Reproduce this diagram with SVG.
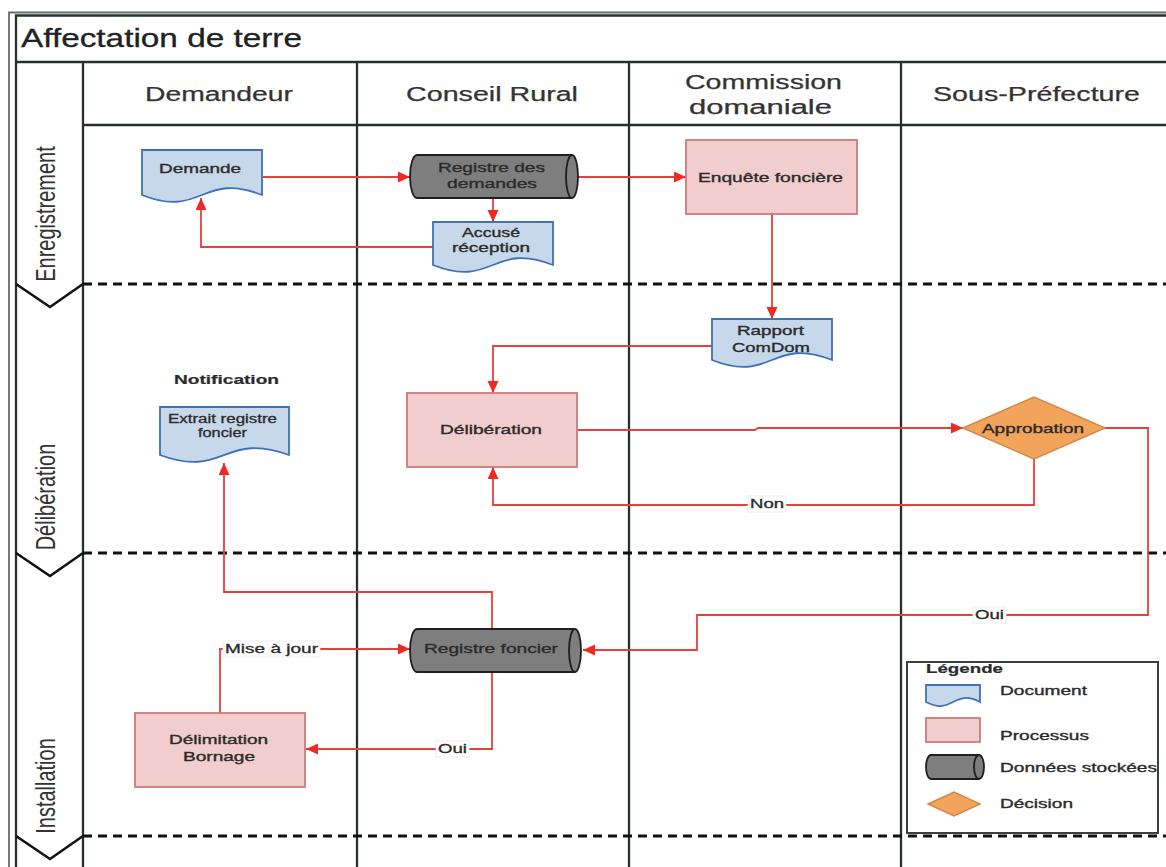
<svg xmlns="http://www.w3.org/2000/svg" width="1166" height="867" viewBox="0 0 1166 867">
  <defs>
    <marker id="arrow" markerUnits="userSpaceOnUse" markerWidth="13" markerHeight="12" refX="12" refY="5.5" orient="auto">
      <path d="M0,0 L12,5.5 L0,11 Z" fill="#ee2a24"/>
    </marker>
    <style>
      text { font-family: "Liberation Sans", Arial, sans-serif; fill: #2b2b2b; }
      .title { font-size: 25px; fill: #222; stroke: #222; stroke-width: 0.3; }
      .lane { font-size: 20px; fill: #333; stroke: #333; stroke-width: 0.25; }
      .phase { font-size: 20px; fill: #333; }
      .node { font-size: 13px; stroke: #2b2b2b; stroke-width: 0.35; }
      .small { font-size: 12px; stroke: #2b2b2b; stroke-width: 0.3; }
      .bold { font-weight: bold; stroke-width: 0.2; }
      .frame { stroke: #25302f; stroke-width: 2.3; fill: none; }
      .frame-thin { stroke: #6a6a6a; stroke-width: 1.8; fill: none; }
      .phase-sep { stroke: #111; stroke-width: 3; stroke-dasharray: 9 6; fill: none; }
      .chevron { stroke: #111; stroke-width: 2.5; fill: none; stroke-linejoin: miter; }
      .doc { fill: #c7d8eb; stroke: #3f72b3; stroke-width: 1.8; }
      .proc { fill: #f1cdcd; stroke: #cd7b7b; stroke-width: 1.8; }
      .store { fill: #7e7e7e; stroke: #1f1f1f; stroke-width: 1.8; }
      .store-end { fill: none; stroke: #1f1f1f; stroke-width: 1.8; }
      .decision { fill: #f2a45a; stroke: #d5874a; stroke-width: 1.5; }
      .conn { fill: none; stroke: #e6403a; stroke-width: 1.8; }
      .conn-arrow { marker-end: url(#arrow); }
      .label-bg { fill: #ffffff; stroke: #e3e8ee; stroke-width: 0.8; }
      .legend-box { fill: #ffffff; stroke: #3a3f40; stroke-width: 2; }
    </style>
  </defs>

  <rect width="1166" height="867" fill="#ffffff"/>

  <!-- pool frame, title band and lane grid -->
  <g id="pool">
    <path class="frame-thin" d="M9,867 V12.5 H1166"/>
    <path class="frame" d="M16,867 V15.5 H1166"/>
    <line class="frame" x1="16" y1="62" x2="1166" y2="62"/>
    <line class="frame" x1="83" y1="62" x2="83" y2="867"/>
    <line class="frame" x1="83" y1="125" x2="1166" y2="125"/>
    <line class="frame" x1="357" y1="62" x2="357" y2="867"/>
    <line class="frame" x1="629" y1="62" x2="629" y2="867"/>
    <line class="frame" x1="901" y1="62" x2="901" y2="867"/>
    <text class="title" x="21" y="47" textLength="281" lengthAdjust="spacingAndGlyphs">Affectation de terre</text>
  </g>

  <!-- lane headers -->
  <g id="lane-demandeur">
    <text class="lane" x="145" y="101" textLength="148" lengthAdjust="spacingAndGlyphs">Demandeur</text>
  </g>
  <g id="lane-conseil">
    <text class="lane" x="406" y="101" textLength="172" lengthAdjust="spacingAndGlyphs">Conseil Rural</text>
  </g>
  <g id="lane-commission">
    <text class="lane" x="685" y="89" textLength="157" lengthAdjust="spacingAndGlyphs">Commission</text>
    <text class="lane" x="689" y="114" textLength="143" lengthAdjust="spacingAndGlyphs">domaniale</text>
  </g>
  <g id="lane-prefecture">
    <text class="lane" x="933" y="101" textLength="207" lengthAdjust="spacingAndGlyphs">Sous-Préfecture</text>
  </g>

  <!-- phase separators -->
  <g id="phases">
    <line class="phase-sep" x1="83" y1="284" x2="1166" y2="284"/>
    <line class="phase-sep" x1="83" y1="553" x2="1166" y2="553"/>
    <line class="phase-sep" x1="83" y1="836" x2="1166" y2="836"/>
    <polyline class="chevron" points="16,284 50,307 83,284"/>
    <polyline class="chevron" points="16,553 50,576 83,553"/>
    <polyline class="chevron" points="16,836 50,859 83,836"/>
    <text class="phase" text-anchor="middle" transform="translate(55,214) rotate(-90) scale(1,1.35)">Enregistrement</text>
    <text class="phase" text-anchor="middle" transform="translate(55,497) rotate(-90) scale(1,1.35)">Délibération</text>
    <text class="phase" text-anchor="middle" transform="translate(55,786) rotate(-90) scale(1,1.35)">Installation</text>
  </g>

  <!-- connectors -->
  <g id="connectors">
    <path class="conn conn-arrow" d="M262,177 H410"/>
    <path class="conn conn-arrow" d="M573,177 H686"/>
    <path class="conn conn-arrow" d="M493,198 V222"/>
    <path class="conn conn-arrow" d="M433,247 H201 V198"/>
    <path class="conn conn-arrow" d="M772,214 V319"/>
    <path class="conn conn-arrow" d="M712,346 H493 V393"/>
    <path class="conn conn-arrow" d="M577,430 H755 L758,428 H963"/>
    <path class="conn conn-arrow" d="M1034,459 V505 H493 V467"/>
    <path class="conn conn-arrow" d="M1105,428 H1148 V615 H697 V650 H583"/>
    <path class="conn conn-arrow" d="M492,629 V592 H224 V463"/>
    <path class="conn conn-arrow" d="M492,672 V749 H306"/>
    <path class="conn conn-arrow" d="M220,713 V649 H410"/>

    <rect class="label-bg" x="748" y="496" width="38" height="16"/>
    <text class="small" x="750" y="508" textLength="34" lengthAdjust="spacingAndGlyphs">Non</text>
    <rect class="label-bg" x="973" y="607" width="33" height="16"/>
    <text class="small" x="975" y="619" textLength="29" lengthAdjust="spacingAndGlyphs">Oui</text>
    <rect class="label-bg" x="436" y="741" width="33" height="16"/>
    <text class="small" x="438" y="753" textLength="29" lengthAdjust="spacingAndGlyphs">Oui</text>
    <rect class="label-bg" x="223" y="641" width="97" height="16"/>
    <text class="small" x="225" y="653" textLength="93" lengthAdjust="spacingAndGlyphs">Mise à jour</text>
  </g>

  <!-- Enregistrement -->
  <g id="demande">
    <path class="doc" d="M142,150 H262 V195 C202,171 202,219 142,195 Z"/>
    <text class="node" x="159" y="173" textLength="82" lengthAdjust="spacingAndGlyphs">Demande</text>
  </g>
  <g id="registre-demandes">
    <path class="store" d="M417,155 H572 A6,21.5 0 0 1 572,198 H417 A7,21.5 0 0 1 417,155 Z"/>
    <path class="store-end" d="M572,155 A6,21.5 0 0 0 572,198"/>
    <text class="node" x="438" y="172" textLength="107" lengthAdjust="spacingAndGlyphs">Registre des</text>
    <text class="node" x="447" y="188" textLength="90" lengthAdjust="spacingAndGlyphs">demandes</text>
  </g>
  <g id="accuse-reception">
    <path class="doc" d="M433,222 H553 V265 C493,241 493,289 433,265 Z"/>
    <text class="node" x="462" y="237" textLength="58" lengthAdjust="spacingAndGlyphs">Accusé</text>
    <text class="node" x="452" y="252" textLength="78" lengthAdjust="spacingAndGlyphs">réception</text>
  </g>
  <g id="enquete-fonciere">
    <rect class="proc" x="686" y="140" width="171" height="74"/>
    <text class="node" x="698" y="182" textLength="145" lengthAdjust="spacingAndGlyphs">Enquête foncière</text>
  </g>

  <!-- Délibération -->
  <g id="rapport-comdom">
    <path class="doc" d="M712,319 H832 V360 C772,336 772,384 712,360 Z"/>
    <text class="node" x="737" y="335" textLength="67" lengthAdjust="spacingAndGlyphs">Rapport</text>
    <text class="node" x="732" y="352" textLength="78" lengthAdjust="spacingAndGlyphs">ComDom</text>
  </g>
  <g id="extrait-registre">
    <text class="node bold" x="174" y="384" textLength="105" lengthAdjust="spacingAndGlyphs">Notification</text>
    <path class="doc" d="M160,407 H289 V455 C224,431 224,479 160,455 Z"/>
    <text class="small" x="168" y="423" textLength="109" lengthAdjust="spacingAndGlyphs">Extrait registre</text>
    <text class="small" x="198" y="437" textLength="49" lengthAdjust="spacingAndGlyphs">foncier</text>
  </g>
  <g id="deliberation">
    <rect class="proc" x="407" y="393" width="170" height="74"/>
    <text class="node" x="440" y="434" textLength="102" lengthAdjust="spacingAndGlyphs">Délibération</text>
  </g>
  <g id="approbation">
    <polygon class="decision" points="963,428 1034,397 1105,428 1034,459"/>
    <text class="node" x="982" y="433" textLength="102" lengthAdjust="spacingAndGlyphs">Approbation</text>
  </g>

  <!-- Installation -->
  <g id="registre-foncier">
    <path class="store" d="M417,629 H575 A6,21.5 0 0 1 575,672 H417 A7,21.5 0 0 1 417,629 Z"/>
    <path class="store-end" d="M575,629 A6,21.5 0 0 0 575,672"/>
    <text class="node" x="424" y="653" textLength="134" lengthAdjust="spacingAndGlyphs">Registre foncier</text>
  </g>
  <g id="delimitation-bornage">
    <rect class="proc" x="135" y="713" width="170" height="74"/>
    <text class="node" x="169" y="744" textLength="99" lengthAdjust="spacingAndGlyphs">Délimitation</text>
    <text class="node" x="183" y="761" textLength="72" lengthAdjust="spacingAndGlyphs">Bornage</text>
  </g>

  <!-- legend -->
  <g id="legend">
    <rect class="legend-box" x="907" y="662" width="251" height="171"/>
    <text class="node bold" x="926" y="673" textLength="77" lengthAdjust="spacingAndGlyphs">Légende</text>
    <path class="doc" d="M926,685 H980 V702 C953,688 953,716 926,702 Z"/>
    <text class="node" x="1000" y="695" textLength="87" lengthAdjust="spacingAndGlyphs">Document</text>
    <rect class="proc" x="926" y="718" width="54" height="24"/>
    <text class="node" x="1000" y="740" textLength="89" lengthAdjust="spacingAndGlyphs">Processus</text>
    <path class="store" d="M931,755 H979 A5,12 0 0 1 979,779 H931 A5,12 0 0 1 931,755 Z"/>
    <path class="store-end" d="M979,755 A5,12 0 0 0 979,779"/>
    <text class="node" x="1000" y="772" textLength="157" lengthAdjust="spacingAndGlyphs">Données stockées</text>
    <polygon class="decision" points="928,804 954,792 980,804 954,816"/>
    <text class="node" x="1000" y="808" textLength="73" lengthAdjust="spacingAndGlyphs">Décision</text>
  </g>
</svg>
